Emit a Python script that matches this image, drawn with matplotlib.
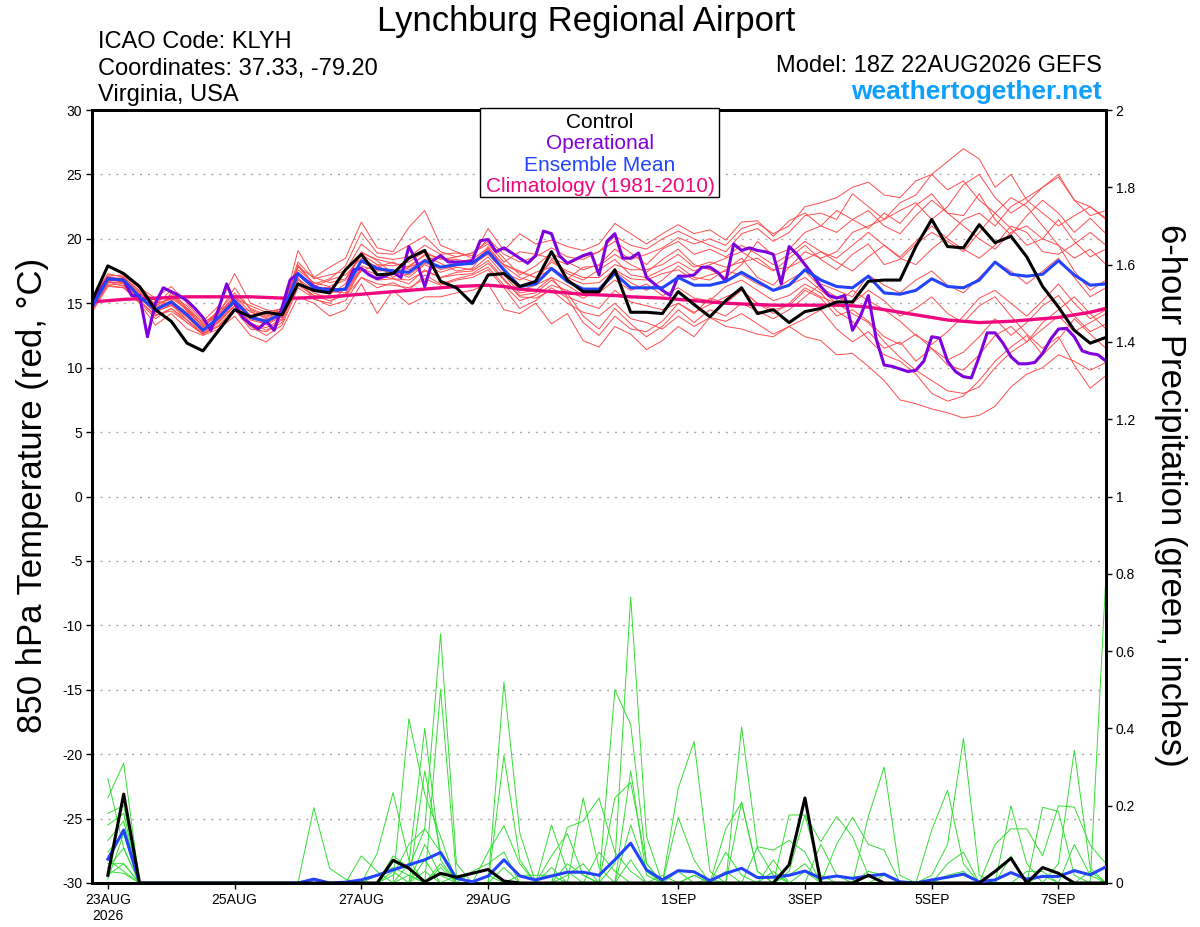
import numpy as np
import pandas as pd
import matplotlib
matplotlib.use('Agg')
import matplotlib.pyplot as plt
import matplotlib.dates as mdates
from matplotlib.patches import Rectangle

plt.rcParams['font.family'] = ['Liberation Sans', 'DejaVu Sans']
plt.rcParams['axes.unicode_minus'] = False

# 6-hourly ensemble times, 3-hourly operational run
times = pd.date_range('2026-08-22 18:00', periods=65, freq='6h')
op_times = pd.date_range('2026-08-22 18:00', periods=129, freq='3h')
pcp_times = times[1:]

# 850 hPa temperature (C)
control_t = [15.2, 17.9, 17.3, 16.3, 14.5, 13.6, 11.9, 11.3, 12.9, 14.5, 13.95, 14.3, 14.1,
             16.5, 16.0, 15.8, 17.6, 18.8, 17.2, 17.3, 18.5, 19.1, 16.7, 16.2, 15.0, 17.2,
             17.3, 16.3, 16.7, 19.0, 16.8, 15.9, 15.9, 17.6, 14.3, 14.3, 14.2, 15.9, 14.9,
             13.95, 15.2, 16.2, 14.2, 14.5, 13.5, 14.35, 14.6, 15.1, 15.1, 16.7, 16.8, 16.8,
             19.4, 21.5, 19.4, 19.3, 21.1, 19.7, 20.2, 18.6, 16.3, 14.7, 12.9, 11.9, 12.35]

mean_t = [14.7, 16.9, 16.8, 15.5, 14.5, 15.1, 14.1, 12.9, 13.9, 15.2, 13.9, 13.6, 14.2,
          17.3, 16.2, 16.0, 16.1, 18.3, 17.7, 17.5, 17.4, 18.3, 17.8, 18.0, 18.1, 19.0,
          17.6, 16.3, 16.5, 17.7, 16.7, 16.1, 16.1, 17.3, 16.2, 16.2, 16.2, 17.0, 16.4,
          16.4, 16.7, 17.4, 16.7, 16.0, 16.4, 17.6, 16.8, 16.3, 16.2, 17.1, 15.8, 15.7,
          16.0, 16.9, 16.3, 16.2, 16.8, 18.2, 17.25, 17.1, 17.25, 18.3, 17.2, 16.4, 16.5]

clim_t = [15.1, 15.2, 15.3, 15.35, 15.4, 15.45, 15.5, 15.5, 15.5, 15.5, 15.5, 15.45, 15.4,
          15.4, 15.45, 15.5, 15.6, 15.7, 15.8, 15.9, 16.0, 16.1, 16.2, 16.3, 16.35, 16.4,
          16.3, 16.1, 16.0, 15.9, 15.8, 15.7, 15.65, 15.6, 15.5, 15.45, 15.4, 15.3, 15.2,
          15.1, 15.0, 14.95, 14.9, 14.85, 14.85, 14.85, 14.85, 14.85, 14.8, 14.7, 14.5, 14.3,
          14.1, 13.9, 13.7, 13.6, 13.5, 13.55, 13.6, 13.7, 13.8, 13.9, 14.1, 14.3, 14.6]

oper_t = [15.0, 16.0, 16.9, 16.85, 16.8, 15.6, 15.6, 12.4, 15.0, 16.2, 15.9, 15.6, 15.2,
          14.6, 13.9, 12.9, 14.6, 16.5, 15.0, 13.9, 13.4, 13.0, 13.6, 12.9, 14.7, 16.8,
          17.3, 16.8, 16.3, 16.1, 16.1, 16.0, 16.1, 17.6, 17.7, 17.2, 16.9, 17.1, 17.4,
          17.0, 19.4, 18.2, 16.3, 18.3, 18.7, 18.2, 18.2, 18.2, 18.3, 19.85, 19.95, 19.0,
          19.3, 18.9, 18.5, 18.1, 18.7, 20.6, 20.4, 18.7, 18.1, 18.4, 18.7, 18.9, 17.2,
          19.8, 20.4, 18.5, 18.5, 18.9, 17.0, 16.5, 16.0, 15.6, 17.1, 17.1, 17.2, 17.8,
          17.8, 17.4, 16.7, 19.6, 19.1, 19.3, 19.1, 19.0, 18.8, 16.5, 19.4, 18.8, 18.0,
          17.2, 16.3, 15.6, 15.4, 15.6, 12.9, 14.0, 15.6, 12.2, 10.2, 10.1, 9.9, 9.7,
          9.8, 10.5, 12.4, 12.3, 10.5, 9.7, 9.3, 9.2, 10.85, 12.7, 12.7, 11.9, 10.85,
          10.3, 10.3, 10.4, 11.1, 12.2, 13.0, 13.05, 12.4, 11.3, 11.1, 11.0, 10.5]

members_t = [
    [15.0, 17.0, 16.9, 15.8, 14.8, 15.4, 14.5, 13.2, 14.2, 15.6, 14.3, 13.9, 14.4,
     17.6, 16.6, 16.3, 16.8, 18.8, 18.0, 17.9, 18.2, 19.0, 18.4, 18.6, 18.9, 19.8,
     18.5, 17.2, 17.9, 18.9, 18.2, 17.6, 18.0, 19.2, 18.4, 18.8, 19.3, 20.1, 19.6,
     20.0, 19.5, 20.8, 21.2, 20.4, 21.0, 22.5, 22.8, 23.2, 24.0, 24.4, 23.4, 23.2,
     24.5, 25.0, 26.0, 27.0, 26.2, 24.0, 25.0, 23.0, 22.0, 21.0, 21.8, 22.5, 21.6],
    [14.4, 16.5, 16.4, 15.2, 14.0, 14.6, 13.7, 12.6, 13.5, 14.8, 13.4, 13.1, 13.8,
     16.8, 15.8, 15.4, 15.7, 17.7, 17.2, 16.9, 16.8, 17.5, 17.0, 17.2, 17.3, 18.1,
     16.8, 15.5, 15.4, 16.0, 15.0, 14.3, 14.0, 15.0, 13.8, 13.5, 13.0, 14.0, 13.2,
     13.9, 13.6, 14.2, 13.4, 12.6, 13.2, 12.4, 12.1, 11.0, 11.1, 10.1, 9.0, 7.5,
     7.2, 6.8, 6.5, 6.1, 6.3, 7.0, 8.5, 9.5, 10.0, 11.0, 10.5, 9.8, 10.4],
    [15.2, 17.2, 17.1, 16.2, 15.4, 16.3, 15.0, 13.6, 14.8, 17.3, 15.0, 14.5, 14.3,
     19.1, 17.0, 17.8, 18.5, 21.3, 19.3, 19.0, 20.9, 22.2, 19.5, 19.0, 18.5, 20.8,
     19.1, 20.4, 19.6, 19.9, 19.4, 19.1, 19.6, 21.2, 20.4, 19.6, 20.4, 21.1, 20.4,
     20.7, 19.9, 21.3, 21.4, 20.2, 21.4, 22.0, 21.0, 20.5, 21.5, 22.2, 21.0, 20.4,
     21.8, 23.0, 22.0, 21.0, 20.0, 19.2, 20.5, 21.0, 20.0, 19.5, 18.5, 19.2, 18.0],
    [14.6, 16.4, 16.2, 15.0, 13.3, 14.2, 13.0, 12.5, 13.0, 14.0, 12.5, 12.0, 13.0,
     15.5, 15.0, 14.0, 14.5, 16.5, 14.2, 16.0, 14.9, 15.5, 15.5, 15.8, 16.0, 16.5,
     14.5, 14.2, 15.0, 13.4, 14.2, 12.1, 11.6, 13.2, 12.6, 11.4, 12.1, 13.2, 12.4,
     13.9, 13.2, 13.0, 12.6, 12.4, 13.2, 13.8, 14.5, 13.0, 12.0, 12.8, 11.5, 12.0,
     10.5, 11.5, 10.2, 9.8, 11.0, 12.5, 13.2, 12.0, 13.0, 14.0, 12.8, 13.5, 14.2],
    [14.9, 17.1, 16.6, 15.6, 14.2, 15.8, 14.4, 13.1, 14.5, 15.0, 14.1, 13.3, 14.0,
     17.9, 16.4, 15.7, 16.5, 19.0, 18.3, 17.3, 17.9, 18.7, 18.1, 17.5, 17.7, 19.4,
     17.9, 17.0, 16.6, 18.4, 17.3, 16.8, 17.6, 18.4, 17.2, 17.0, 17.6, 18.2, 17.5,
     18.0, 18.5, 19.0, 18.2, 17.5, 18.5, 19.5, 18.4, 17.6, 18.8, 19.6, 18.0, 18.4,
     19.6, 20.5, 19.8, 19.0, 20.5, 22.0, 20.8, 19.5, 20.0, 21.5, 19.8, 18.6, 19.2],
    [14.5, 16.7, 16.5, 15.3, 14.6, 14.9, 13.9, 12.8, 13.7, 15.3, 13.8, 13.5, 14.2,
     16.9, 16.0, 15.9, 15.8, 17.9, 17.5, 17.6, 17.0, 18.0, 17.4, 17.8, 17.6, 18.6,
     17.2, 15.8, 16.0, 17.0, 15.5, 15.0, 14.6, 16.0, 15.1, 14.8, 14.5, 15.0, 14.3,
     14.9, 15.5, 16.0, 15.0, 14.5, 14.8, 16.0, 15.4, 14.0, 14.5, 13.6, 12.4, 11.8,
     12.6, 11.5, 10.6, 11.2, 12.4, 13.8, 12.5, 13.5, 14.8, 15.6, 14.0, 12.8, 13.4],
    [15.1, 16.8, 17.0, 15.9, 14.7, 15.2, 14.3, 13.3, 14.0, 15.5, 14.0, 13.7, 14.5,
     17.4, 16.3, 16.8, 17.2, 18.5, 17.8, 18.2, 17.6, 18.4, 18.6, 18.2, 18.4, 19.3,
     17.4, 16.8, 17.4, 17.8, 16.9, 17.8, 17.9, 18.8, 18.0, 17.4, 18.4, 19.2, 18.0,
     17.6, 17.0, 18.0, 19.8, 18.7, 19.2, 20.5, 21.0, 22.2, 21.5, 20.8, 22.0, 21.2,
     22.6, 23.5, 22.0, 21.8, 23.5, 21.5, 20.3, 21.8, 23.0, 22.0, 20.5, 21.6, 20.4],
    [14.8, 16.9, 16.8, 15.4, 14.4, 14.8, 14.2, 13.0, 13.8, 15.1, 13.7, 13.4, 14.1,
     17.2, 16.2, 16.2, 16.0, 18.2, 17.6, 17.4, 17.2, 18.1, 17.8, 18.1, 18.0, 18.8,
     17.5, 16.0, 16.4, 17.0, 16.4, 15.6, 15.8, 16.8, 16.0, 16.5, 15.6, 16.2, 15.4,
     15.2, 16.3, 16.8, 16.0, 15.2, 15.6, 16.5, 15.8, 14.4, 13.6, 12.2, 11.0, 10.5,
     9.5, 8.0, 7.4, 7.8, 9.0, 10.5, 11.6, 12.5, 11.0, 12.2, 13.8, 12.6, 11.5],
    [14.3, 16.3, 16.2, 15.1, 13.8, 14.6, 13.5, 12.6, 13.2, 14.5, 13.0, 12.8, 13.5,
     16.4, 15.6, 15.2, 15.6, 17.0, 16.2, 16.6, 16.0, 17.2, 16.5, 16.9, 17.2, 17.8,
     16.4, 15.2, 15.6, 16.4, 16.0, 15.4, 16.0, 17.5, 16.6, 16.0, 16.8, 17.9, 17.0,
     16.8, 17.6, 18.5, 17.0, 16.4, 17.8, 19.0, 18.5, 19.0, 20.5, 21.0, 21.5, 22.8,
     23.4, 25.0, 23.8, 24.5, 23.0, 22.0, 23.2, 22.5, 21.0, 19.5, 17.5, 16.0, 16.8],
    [15.0, 16.6, 16.7, 15.7, 15.0, 15.3, 14.0, 12.9, 13.6, 14.8, 14.4, 13.8, 13.9,
     17.0, 15.3, 15.0, 16.2, 17.5, 18.0, 17.0, 17.8, 18.3, 17.6, 17.9, 18.1, 19.0,
     18.0, 17.5, 17.0, 17.6, 17.0, 16.5, 16.6, 17.6, 16.9, 16.8, 17.3, 17.6, 16.8,
     17.2, 17.5, 17.2, 16.5, 16.0, 16.8, 17.5, 16.2, 15.5, 15.0, 16.0, 15.2, 14.0,
     14.6, 15.5, 14.2, 13.5, 14.8, 15.5, 14.0, 12.6, 11.5, 12.4, 10.2, 8.4, 9.4],
    [15.3, 17.3, 17.0, 16.0, 15.2, 15.6, 14.8, 13.4, 14.4, 15.8, 14.6, 14.1, 14.6,
     18.2, 16.9, 17.2, 17.5, 19.6, 18.6, 18.4, 18.6, 19.5, 18.8, 18.9, 18.7, 20.0,
     18.8, 18.2, 18.6, 19.3, 18.6, 18.4, 19.0, 20.2, 19.5, 19.2, 20.0, 20.6, 20.0,
     19.5, 19.0, 20.4, 20.8, 19.8, 20.5, 21.8, 22.0, 21.5, 23.5, 22.5, 21.5, 22.2,
     22.8, 21.5, 22.5, 24.2, 25.0, 23.2, 22.0, 22.8, 24.0, 24.8, 23.0, 21.8, 22.2],
    [14.6, 16.6, 16.6, 15.4, 14.3, 14.9, 13.7, 12.7, 13.6, 15.0, 13.5, 12.9, 13.7,
     16.6, 15.6, 15.5, 15.5, 17.6, 16.8, 16.9, 16.5, 17.6, 17.0, 17.4, 17.5, 18.3,
     16.9, 15.6, 15.8, 16.8, 15.8, 14.0, 13.0, 14.6, 13.4, 12.4, 13.2, 14.5, 13.5,
     14.5, 14.0, 15.0, 14.4, 13.8, 14.5, 15.5, 16.5, 16.0, 15.5, 17.2, 16.4, 15.8,
     16.8, 17.5, 16.4, 15.8, 17.0, 18.2, 17.5, 16.5, 17.5, 18.5, 17.0, 15.5, 16.2],
    [14.7, 16.8, 16.7, 15.5, 14.5, 15.0, 14.1, 12.9, 14.0, 15.2, 13.9, 13.6, 14.2,
     17.3, 16.2, 16.0, 16.1, 18.3, 17.7, 17.5, 17.4, 18.3, 17.8, 18.0, 18.1, 19.0,
     17.6, 16.3, 16.5, 17.7, 16.7, 16.1, 16.1, 17.3, 16.2, 16.2, 16.2, 17.0, 16.4,
     16.4, 16.7, 17.4, 16.7, 16.0, 16.4, 17.0, 16.0, 15.0, 14.2, 13.5, 12.0, 10.8,
     9.8, 9.0, 8.2, 8.0, 8.5, 10.0, 11.2, 12.0, 13.5, 14.5, 15.5, 14.2, 13.0],
    [14.9, 17.0, 16.9, 15.7, 14.9, 16.0, 14.6, 13.2, 14.3, 16.2, 14.5, 14.0, 14.4,
     18.0, 16.5, 16.9, 17.9, 20.5, 18.9, 18.8, 19.5, 20.2, 19.0, 18.6, 18.9, 19.6,
     18.2, 19.0, 18.8, 18.5, 18.0, 18.6, 19.0, 19.8, 18.9, 18.0, 19.2, 19.8, 18.8,
     19.2, 18.6, 19.5, 18.8, 18.0, 18.8, 19.8, 19.0, 18.5, 19.5, 20.5, 19.5, 18.6,
     19.8, 21.0, 20.0, 19.2, 18.5, 19.5, 21.0, 20.5, 19.0, 18.8, 19.6, 20.5, 19.5],
    [14.5, 16.7, 16.3, 15.2, 14.1, 14.4, 13.5, 12.6, 13.3, 14.6, 13.2, 12.5, 13.3,
     16.2, 15.4, 14.8, 15.2, 17.0, 16.5, 16.4, 16.2, 16.9, 16.4, 16.8, 17.0, 17.6,
     16.2, 14.6, 15.2, 16.2, 15.4, 13.5, 12.5, 14.0, 13.0, 12.8, 13.6, 15.0, 14.2,
     15.4, 15.0, 16.0, 15.0, 14.2, 15.0, 16.2, 15.5, 15.0, 16.0, 15.2, 14.5, 13.6,
     12.5, 11.8, 12.8, 14.0, 15.4, 16.0, 15.0, 14.0, 15.2, 16.5, 15.0, 13.8, 14.5],
    [15.0, 17.1, 17.2, 16.4, 14.8, 15.5, 14.6, 13.5, 14.2, 15.4, 14.8, 14.3, 14.6,
     17.8, 17.0, 16.6, 16.9, 18.9, 18.4, 18.1, 17.8, 18.8, 18.5, 18.4, 18.2, 19.2,
     18.0, 17.4, 17.0, 18.2, 17.5, 17.0, 17.0, 18.0, 17.6, 17.6, 18.0, 18.8, 17.8,
     18.2, 17.8, 18.2, 18.5, 17.6, 17.8, 18.4, 19.0, 18.2, 17.5, 18.6, 19.5, 18.5,
     18.0, 19.2, 20.2, 21.5, 22.0, 21.0, 22.5, 23.2, 24.0, 25.0, 23.0, 22.5, 21.5],
]

# 6-hour precipitation (inches), from 23AUG 00Z
control_p = [0.02, 0.23, 0, 0, 0, 0, 0, 0, 0, 0, 0, 0, 0, 0, 0, 0, 0, 0,
             0.059, 0.038, 0.003, 0.025, 0.015, 0.025, 0.035, 0.005,
             0, 0, 0, 0, 0, 0, 0, 0, 0, 0, 0, 0, 0, 0, 0, 0, 0,
             0.047, 0.22, 0, 0, 0, 0.02, 0, 0, 0, 0, 0, 0, 0,
             0.03, 0.064, 0, 0.04, 0.025, 0, 0, 0]

mean_p = [0.062, 0.137, 0, 0, 0, 0, 0, 0, 0, 0, 0, 0, 0,
          0.01, 0, 0.002, 0.008, 0.02, 0.034, 0.047, 0.06, 0.079, 0.012, 0.003, 0.018,
          0.06, 0.018, 0.008, 0.018, 0.028, 0.028, 0.02, 0.06, 0.103, 0.034, 0.008, 0.032,
          0.029, 0.006, 0.025, 0.038, 0.014, 0.015, 0.02, 0.031, 0.012, 0.018, 0.012, 0.018,
          0.023, 0.003, 0.0, 0.008, 0.015, 0.023, 0.003, 0.008, 0.027, 0.01, 0.017, 0.017,
          0.032, 0.021, 0.042]

# member precip: {6-hour step: amount}, other steps dry
members_p = [
    {1: 0.22, 2: 0.31, 20: 0.05, 21: 0.40, 22: 0.06, 26: 0.52, 27: 0.13, 33: 0.05,
     34: 0.74, 35: 0.12, 38: 0.02, 41: 0.21, 42: 0.03, 50: 0.02},
    {1: 0.18, 2: 0.20, 19: 0.02, 20: 0.10, 21: 0.14, 22: 0.645, 23: 0.05, 29: 0.15,
     30: 0.03, 33: 0.50, 34: 0.41, 35: 0.05, 44: 0.03, 45: 0.176, 46: 0.02, 64: 0.80},
    {1: 0.15, 2: 0.18, 14: 0.195, 15: 0.038, 16: 0.01, 21: 0.29, 22: 0.08, 26: 0.33,
     27: 0.06, 31: 0.22, 32: 0.04, 37: 0.245, 38: 0.366, 39: 0.03, 54: 0.05, 55: 0.08},
    {1: 0.11, 2: 0.16, 18: 0.077, 19: 0.234, 20: 0.06, 22: 0.50, 23: 0.02, 30: 0.144,
     31: 0.16, 32: 0.22, 33: 0.08, 34: 0.03, 41: 0.404, 42: 0.09, 43: 0.02, 53: 0.02,
     54: 0.10, 55: 0.374, 56: 0.02},
    {1: 0.08, 2: 0.13, 17: 0.07, 18: 0.03, 20: 0.425, 21: 0.23, 22: 0.12, 25: 0.08,
     26: 0.148, 27: 0.05, 34: 0.29, 35: 0.02, 44: 0.176, 45: 0.176, 46: 0.107, 47: 0.172,
     48: 0.12, 49: 0.02, 61: 0.05, 62: 0.343, 63: 0.04},
    {1: 0.27, 2: 0.09, 19: 0.07, 20: 0.04, 21: 0.14, 22: 0.08, 29: 0.07, 30: 0.128,
     31: 0.02, 37: 0.17, 38: 0.06, 40: 0.14, 41: 0.208, 42: 0.03, 49: 0.172, 50: 0.30,
     51: 0.02, 58: 0.20, 59: 0.05},
    {1: 0.05, 2: 0.05, 21: 0.10, 22: 0.02, 24: 0.03, 25: 0.05, 26: 0.08, 33: 0.22,
     34: 0.26, 35: 0.05, 42: 0.094, 43: 0.085, 44: 0.11, 45: 0.08, 53: 0.137, 54: 0.24,
     55: 0.05, 60: 0.196, 61: 0.185, 62: 0.02},
    {1: 0.04, 2: 0.09, 18: 0.02, 19: 0.04, 20: 0.02, 23: 0.02, 27: 0.02, 28: 0.02,
     29: 0.02, 34: 0.15, 35: 0.03, 40: 0.08, 41: 0.02, 47: 0.10, 48: 0.17, 49: 0.10,
     50: 0.085, 57: 0.10, 58: 0.14, 59: 0.14, 60: 0.07, 61: 0.20, 62: 0.196, 63: 0.098,
     64: 0.05},
    {1: 0.03, 2: 0.025, 22: 0.05, 26: 0.04, 30: 0.05, 31: 0.02, 36: 0.02, 43: 0.06,
     45: 0.03, 58: 0.07, 62: 0.10, 63: 0.02},
    {1: 0.02, 2: 0.05, 21: 0.03, 25: 0.02, 32: 0.08, 33: 0.03, 38: 0.02, 46: 0.10,
     47: 0.02, 54: 0.02, 55: 0.03, 60: 0.02},
    {1: 0.01, 2: 0.128, 20: 0.02, 22: 0.04, 30: 0.02, 31: 0.05, 39: 0.01, 44: 0.02,
     45: 0.05, 63: 0.03},
    {1: 0.06, 2: 0.03, 19: 0.03, 21: 0.06, 29: 0.04, 34: 0.06, 37: 0.03, 40: 0.03,
     43: 0.03, 49: 0.03, 50: 0.02, 59: 0.03, 60: 0.03},
]

tick_days = ['2026-08-23', '2026-08-25', '2026-08-27', '2026-08-29',
             '2026-09-01', '2026-09-03', '2026-09-05', '2026-09-07']
tick_labels = ['23AUG\n2026', '25AUG', '27AUG', '29AUG', '1SEP', '3SEP', '5SEP', '7SEP']

W, H = 1200, 927
fig = plt.figure(figsize=(W / 100, H / 100), dpi=100)
ax = fig.add_axes([92 / W, 1 - 883 / H, (1106 - 92) / W, (883 - 110) / H])
ax2 = ax.twinx()

t6 = times.to_pydatetime()
t3 = op_times.to_pydatetime()
tp = pcp_times.to_pydatetime()

for m in members_t:
    ax.plot(t6, m, color='#ff4d4d', lw=0.7, zorder=2)
ax.plot(t6, clim_t, color='#f0087f', lw=2.4, zorder=3)
ax.plot(t3, oper_t, color='#7f00dd', lw=2.2, zorder=4)
ax.plot(t6, mean_t, color='#2244ff', lw=2.2, zorder=5)
ax.plot(t6, control_t, color='black', lw=2.2, zorder=6)

for d in members_p:
    arr = np.zeros(len(tp))
    for i, v in d.items():
        arr[i - 1] = v
    ax2.plot(tp, arr, color='#33dd33', lw=0.7, zorder=2)
ax2.plot(tp, mean_p, color='#2244ff', lw=2.2, zorder=5)
ax2.plot(tp, control_p, color='black', lw=2.2, zorder=6)

ax.set_xlim(t6[0], t6[-1])
ax.set_ylim(-30, 30)
ax.set_yticks(range(-30, 31, 5))
ax2.set_ylim(0, 2)
ax2.set_yticks(np.arange(0, 2.01, 0.2))
ax2.set_yticklabels(['%g' % round(v, 1) for v in np.arange(0, 2.01, 0.2)])

ax.set_xticks(mdates.date2num(pd.to_datetime(tick_days).to_pydatetime()))
ax.set_xticklabels(tick_labels)

ax.yaxis.grid(True, linestyle=(0, (1.5, 4.2)), color='#aaaaaa', lw=1.0)
ax.set_axisbelow(True)

for a in (ax, ax2):
    for s in a.spines.values():
        s.set_linewidth(2)
    a.tick_params(direction='out', length=4, width=1, labelsize=10, pad=3)

fig.text(586 / W, 1 - 30.5 / H, 'Lynchburg Regional Airport', ha='center', va='baseline', fontsize=25)
fig.text(98 / W, 1 - 48.5 / H, 'ICAO Code: KLYH', ha='left', va='baseline', fontsize=17)
fig.text(98 / W, 1 - 74.5 / H, 'Coordinates: 37.33, -79.20', ha='left', va='baseline', fontsize=17)
fig.text(98 / W, 1 - 100.5 / H, 'Virginia, USA', ha='left', va='baseline', fontsize=17)
fig.text(1102 / W, 1 - 72.5 / H, 'Model: 18Z 22AUG2026 GEFS', ha='right', va='baseline', fontsize=17)
fig.text(1102 / W, 1 - 99 / H, 'weathertogether.net', ha='right', va='baseline', fontsize=19,
         fontweight='bold', color='#0fa0ff')

fig.text(33 / W, 1 - 495 / H, '850 hPa Temperature (red, \u00b0C)', rotation=90,
         ha='center', va='center', fontsize=25)
fig.text(1170 / W, 1 - 495 / H, '6-hour Precipitation (green, inches)', rotation=270,
         ha='center', va='center', fontsize=25)

# legend box
fig.patches.append(Rectangle((480 / W, 1 - 197 / H), (719 - 480) / W, (197 - 108) / H,
                             transform=fig.transFigure, facecolor='white', edgecolor='black',
                             lw=1, zorder=10))
leg_items = [('Control', 'black'), ('Operational', '#7f00dd'),
             ('Ensemble Mean', '#2244ff'), ('Climatology (1981-2010)', '#f0087f')]
for k, (txt, col) in enumerate(leg_items):
    fig.text(600 / W, 1 - (128 + 21.3 * k) / H, txt, ha='center', va='baseline',
             fontsize=15, color=col, zorder=11)

fig.savefig('out.png', dpi=100)
